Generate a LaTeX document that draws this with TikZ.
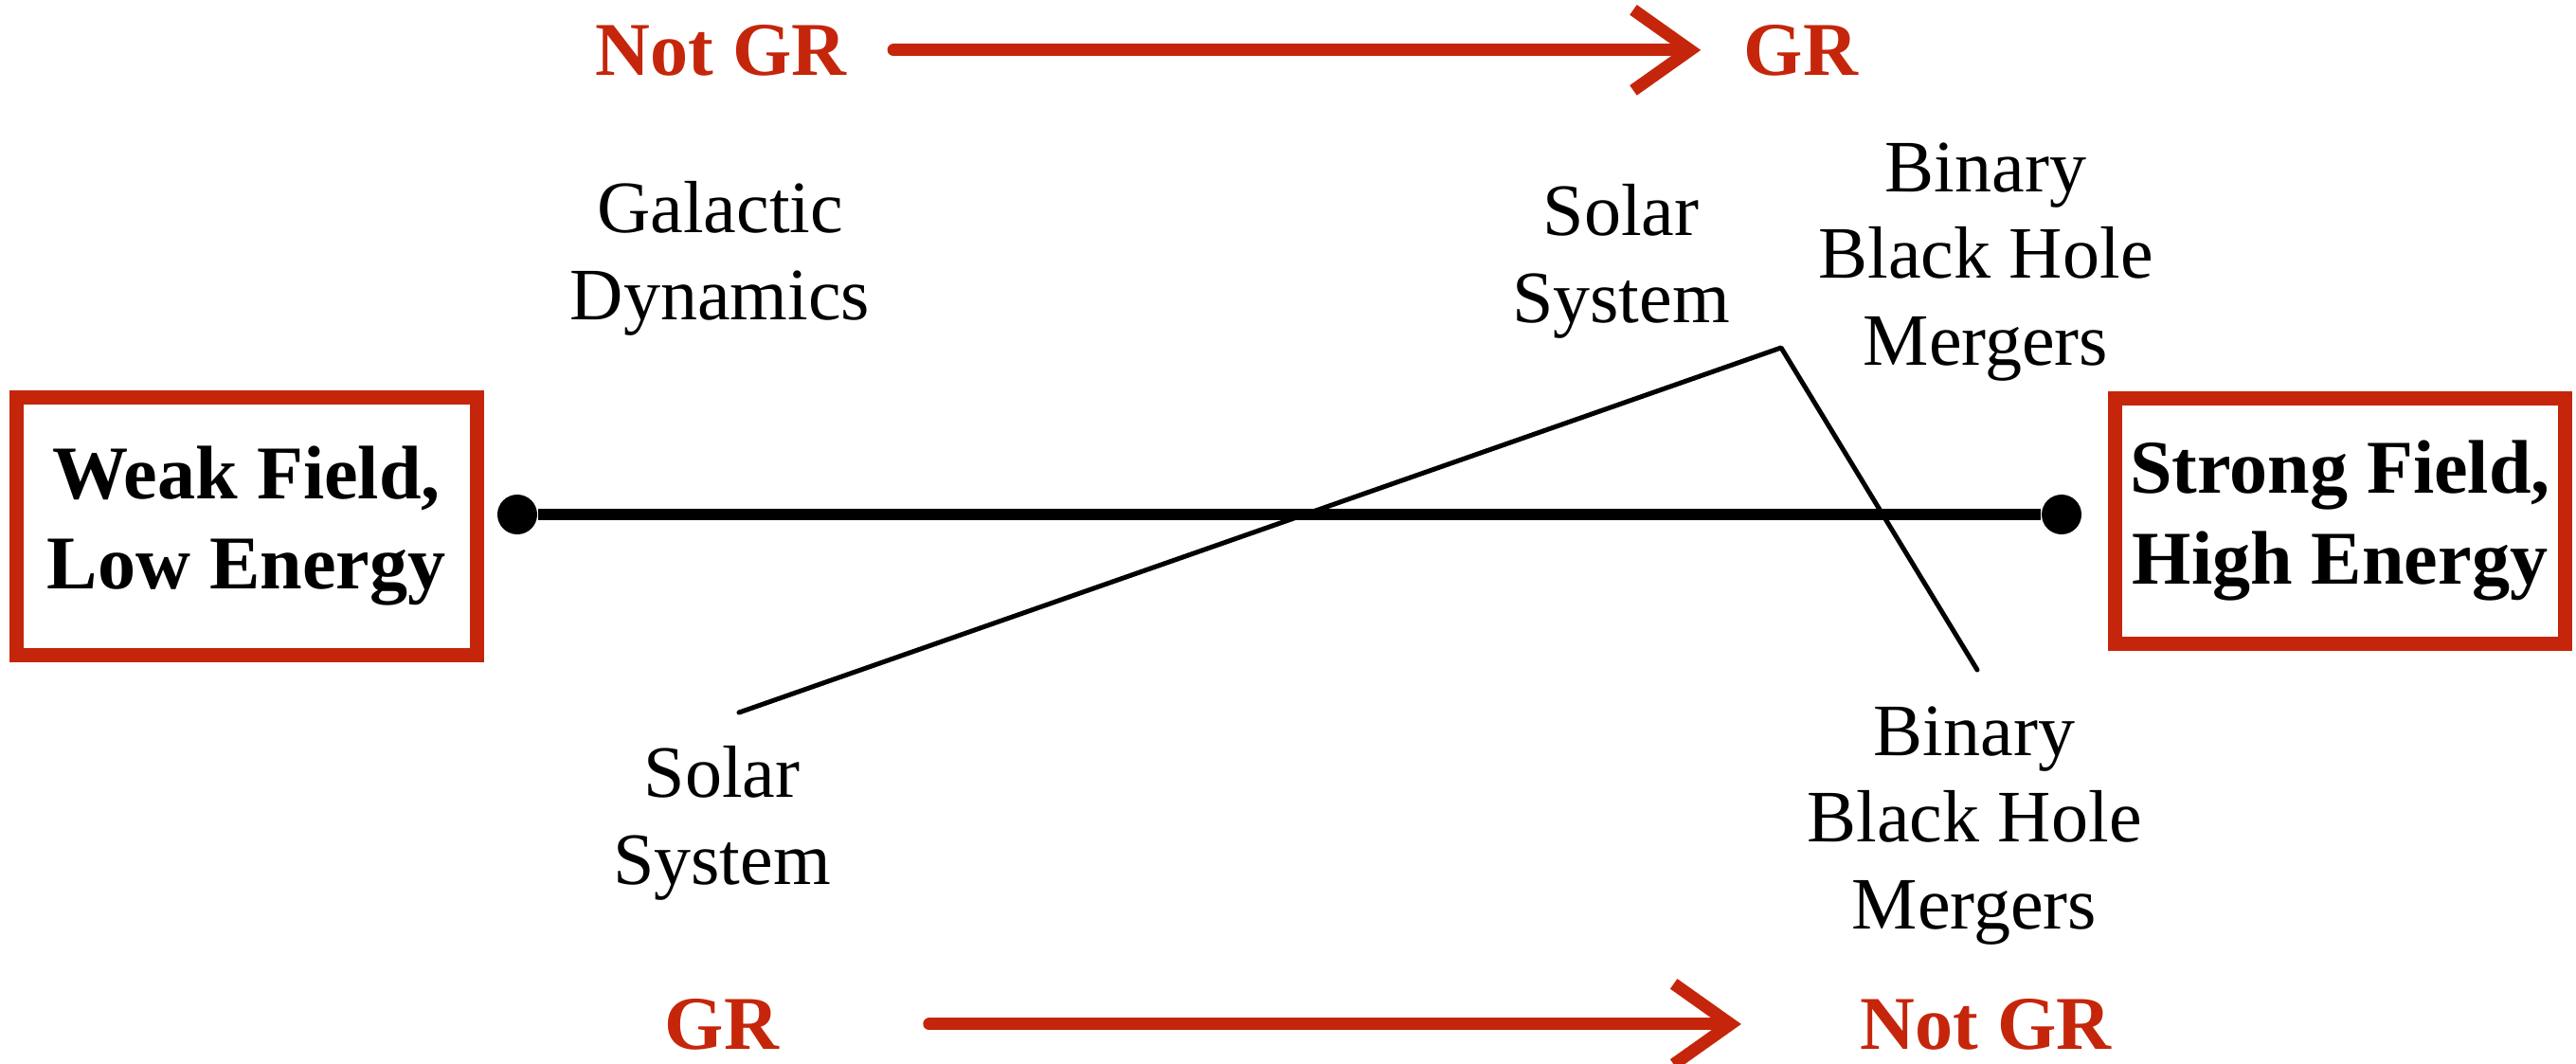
\documentclass[tikz,border=0pt]{standalone}
\usepackage{fontspec}
\setmainfont{Liberation Serif}
\usetikzlibrary{arrows.meta}
\definecolor{grred}{RGB}{197,38,11}

\begin{document}
\begin{tikzpicture}[
    regime/.style={draw=grred, line width=0.15cm, align=center, inner sep=0pt,
        font=\bfseries\fontsize{22.8}{27.3}\selectfont},
    probe/.style={align=center, inner sep=0pt, anchor=base,
        font=\fontsize{22.2}{25.9}\selectfont},
    grtext/.style={text=grred, inner sep=0pt, anchor=base,
        font=\bfseries\fontsize{22.8}{27.3}\selectfont},
    grarrow/.style={draw=grred, line width=0.13cm, line cap=round,
        -{Straight Barb[length=0.6cm, width=0.85cm]}},
    endpt/.style={circle, fill=black, inner sep=0pt, minimum size=0.42cm}
]
                    \useasboundingbox (0,0) rectangle (27.19,-11.22);
                    % Nodes
                    \node[regime, minimum width=4.86cm, minimum height=2.72cm] (weak) at (2.60,-5.55) {Weak Field,\\Low Energy};
                    \node[regime, minimum width=4.75cm, minimum height=2.59cm] (strong) at (24.70,-5.50) {Strong Field,\\High Energy};
                    \node[endpt] (lo) at (5.46,-5.43) {};
                    \node[endpt] (hi) at (21.76,-5.43) {};
                    \node[grtext] (ngrtop) at (7.61,-0.79) {Not GR};
                    \node[grtext] (grtop) at (19.01,-0.79) {GR};
                    \node[grtext] (grbot) at (7.62,-11.07) {GR};
                    \node[grtext] (ngrbot) at (20.96,-11.07) {Not GR};
                    % multi-line labels sit on their last baseline
                    \node[probe] (galactic) at (7.60,-3.37) {Galactic\\Dynamics};
                    \node[probe] (solartop) at (17.11,-3.40) {Solar\\System};
                    \node[probe] (bbhtop) at (20.96,-3.85) {Binary\\Black Hole\\Mergers};
                    \node[probe] (solarbot) at (7.62,-9.33) {Solar\\System};
                    \node[probe] (bbhbot) at (20.84,-9.80) {Binary\\Black Hole\\Mergers};
                    \coordinate (ss) at (7.80,-7.52);
                    \coordinate (peak) at (18.80,-3.67);
                    \coordinate (bbh) at (20.87,-7.07);
                    % Edges
                    \draw[line width=0.12cm] (lo) -- (hi);
                    \draw[line width=0.05cm, line join=round, line cap=round] (ss) -- (peak) -- (bbh);
                    \draw[grarrow, shorten <=0.49cm, shorten >=0.45cm] (ngrtop.east) -- (grtop.west);
                    \draw[grarrow, shorten <=1.58cm, shorten >=1.25cm] (grbot.east) -- (ngrbot.west);
                \end{tikzpicture}
\end{document}
